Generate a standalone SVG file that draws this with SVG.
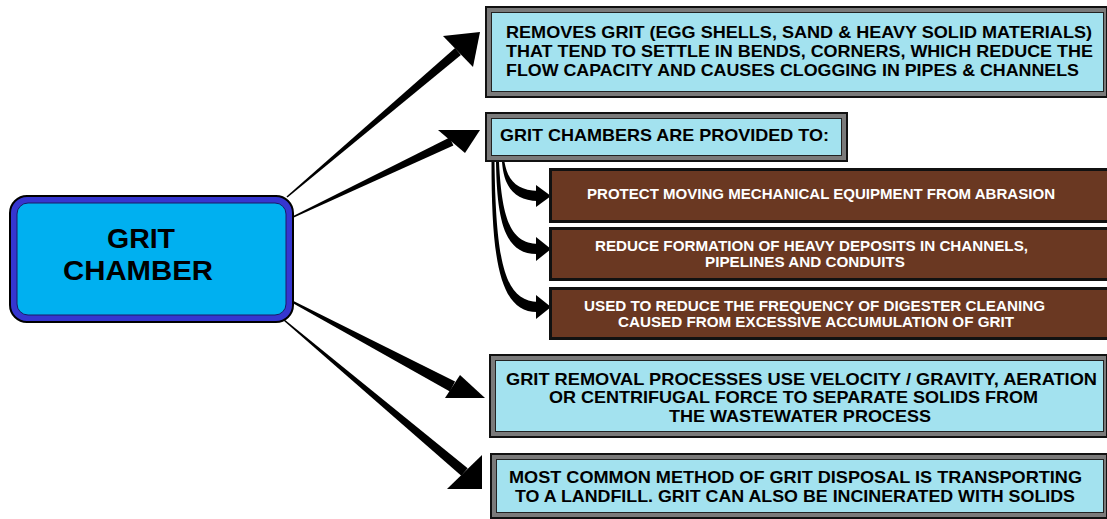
<svg xmlns="http://www.w3.org/2000/svg" width="1107" height="519" viewBox="0 0 1107 519">
<style>
  .frame { fill: #111; }
  .band { fill: #7a7a7a; }
  .lb { fill: #A3E2EF; stroke: #222; stroke-width: 1; }
  .br { fill: #6A3822; stroke: #111; stroke-width: 3; }
  .t { font-family: "Liberation Sans", Arial, sans-serif; font-weight: bold; fill: #000; }
  .tb { font-size: 16.5px; }
  .tw { font-family: "Liberation Sans", Arial, sans-serif; font-weight: bold; fill: #fff; font-size: 14.5px; }
  .arr { fill: #000; }
</style>
<rect width="1107" height="519" fill="#fff"/>

<g id="connectors">
  <polygon class="arr" points="286.5,196.4 455.1,48.1 460.9,54.9 287.5,197.6"/>
  <polygon class="arr" points="443,36 480,32 473,67"/>
  <polygon class="arr" points="292.7,216.3 449.6,137.4 453.4,145.6 293.3,217.7"/>
  <polygon class="arr" points="438,130 480,130 465,153"/>
  <polygon class="arr" points="293.5,301.1 455.1,381.6 449.9,391.4 292.5,302.9"/>
  <polygon class="arr" points="445,398 485,398 460,375"/>
  <polygon class="arr" points="284.5,319.4 467.7,468.2 461.3,475.8 283.5,320.6"/>
  <polygon class="arr" points="447,489 482,489 482,455"/>
  <path class="arr" d="M502,162 C504,187 514,200 538,201 L538,191 C518,190 508,182 504.5,162 Z"/>
  <polygon class="arr" points="536,185 551,196 536,207"/>
  <path class="arr" d="M496,162 C497,222 505,255 538,254 L538,244 C513,243 502,225 499,162 Z"/>
  <polygon class="arr" points="536,237 551,249 536,261"/>
  <path class="arr" d="M491.5,162 C491.5,262 500,313 538,312 L538,302 C507,300 496,272 494.5,162 Z"/>
  <polygon class="arr" points="536,295 551,307 536,319"/>
</g>

<g id="node-main">
  <rect x="10" y="196" width="283" height="126" rx="17" fill="#3636D0" stroke="#000" stroke-width="2"/>
  <rect x="17" y="203" width="269" height="112" rx="11" fill="#00B0F0" stroke="#1a1a66" stroke-width="1"/>
  <text class="t" x="107" y="248" font-size="27" textLength="68" lengthAdjust="spacingAndGlyphs">GRIT</text>
  <text class="t" x="63" y="280" font-size="27" textLength="150" lengthAdjust="spacingAndGlyphs">CHAMBER</text>
</g>

<g id="node-removes">
  <rect class="frame" x="485" y="6" width="623" height="92"/>
  <rect class="band" x="487" y="8" width="619" height="88"/>
  <rect class="lb" x="491.5" y="12.5" width="612" height="79"/>
  <text class="t tb" x="506" y="38" textLength="586" lengthAdjust="spacingAndGlyphs">REMOVES GRIT (EGG SHELLS, SAND &amp; HEAVY SOLID MATERIALS)</text>
  <text class="t tb" x="506" y="57" textLength="587" lengthAdjust="spacingAndGlyphs">THAT TEND TO SETTLE IN BENDS, CORNERS, WHICH REDUCE THE</text>
  <text class="t tb" x="506" y="76" textLength="573" lengthAdjust="spacingAndGlyphs">FLOW CAPACITY AND CAUSES CLOGGING IN PIPES &amp; CHANNELS</text>
</g>

<g id="node-provided">
  <rect class="frame" x="485" y="112" width="363" height="50"/>
  <rect class="band" x="487" y="114" width="359" height="46"/>
  <rect class="lb" x="491.5" y="118.5" width="350" height="37"/>
  <text class="t" x="500" y="141" font-size="17" textLength="329" lengthAdjust="spacingAndGlyphs">GRIT CHAMBERS ARE PROVIDED TO:</text>
</g>

<g id="node-protect">
  <rect class="br" x="550.5" y="169.5" width="560" height="52"/>
  <text class="tw" x="587" y="199" textLength="468" lengthAdjust="spacingAndGlyphs">PROTECT MOVING MECHANICAL EQUIPMENT FROM ABRASION</text>
</g>

<g id="node-reduce">
  <rect class="br" x="550.5" y="228.5" width="560" height="51"/>
  <text class="tw" x="595" y="251" textLength="433" lengthAdjust="spacingAndGlyphs">REDUCE FORMATION OF HEAVY DEPOSITS IN CHANNELS,</text>
  <text class="tw" x="705" y="267" textLength="200" lengthAdjust="spacingAndGlyphs">PIPELINES AND CONDUITS</text>
</g>

<g id="node-digester">
  <rect class="br" x="550.5" y="288.5" width="560" height="50"/>
  <text class="tw" x="584" y="311" textLength="461" lengthAdjust="spacingAndGlyphs">USED TO REDUCE THE FREQUENCY OF DIGESTER CLEANING</text>
  <text class="tw" x="618" y="327" textLength="396" lengthAdjust="spacingAndGlyphs">CAUSED FROM EXCESSIVE ACCUMULATION OF GRIT</text>
</g>

<g id="node-processes">
  <rect class="frame" x="489" y="354" width="619" height="84"/>
  <rect class="band" x="491" y="356" width="615" height="80"/>
  <rect class="lb" x="495.5" y="360.5" width="608" height="71"/>
  <text class="t tb" x="506" y="385" textLength="591" lengthAdjust="spacingAndGlyphs">GRIT REMOVAL PROCESSES USE VELOCITY / GRAVITY, AERATION</text>
  <text class="t tb" x="549" y="403" textLength="489" lengthAdjust="spacingAndGlyphs">OR CENTRIFUGAL FORCE TO SEPARATE SOLIDS FROM</text>
  <text class="t tb" x="669" y="422" textLength="262" lengthAdjust="spacingAndGlyphs">THE WASTEWATER PROCESS</text>
</g>

<g id="node-disposal">
  <rect class="frame" x="490" y="453" width="618" height="66"/>
  <rect class="band" x="492" y="455" width="614" height="62"/>
  <rect class="lb" x="496.5" y="459.5" width="607" height="53"/>
  <text class="t tb" x="509" y="483" textLength="573" lengthAdjust="spacingAndGlyphs">MOST COMMON METHOD OF GRIT DISPOSAL IS TRANSPORTING</text>
  <text class="t tb" x="515" y="502" textLength="560" lengthAdjust="spacingAndGlyphs">TO A LANDFILL. GRIT CAN ALSO BE INCINERATED WITH SOLIDS</text>
</g>
</svg>
